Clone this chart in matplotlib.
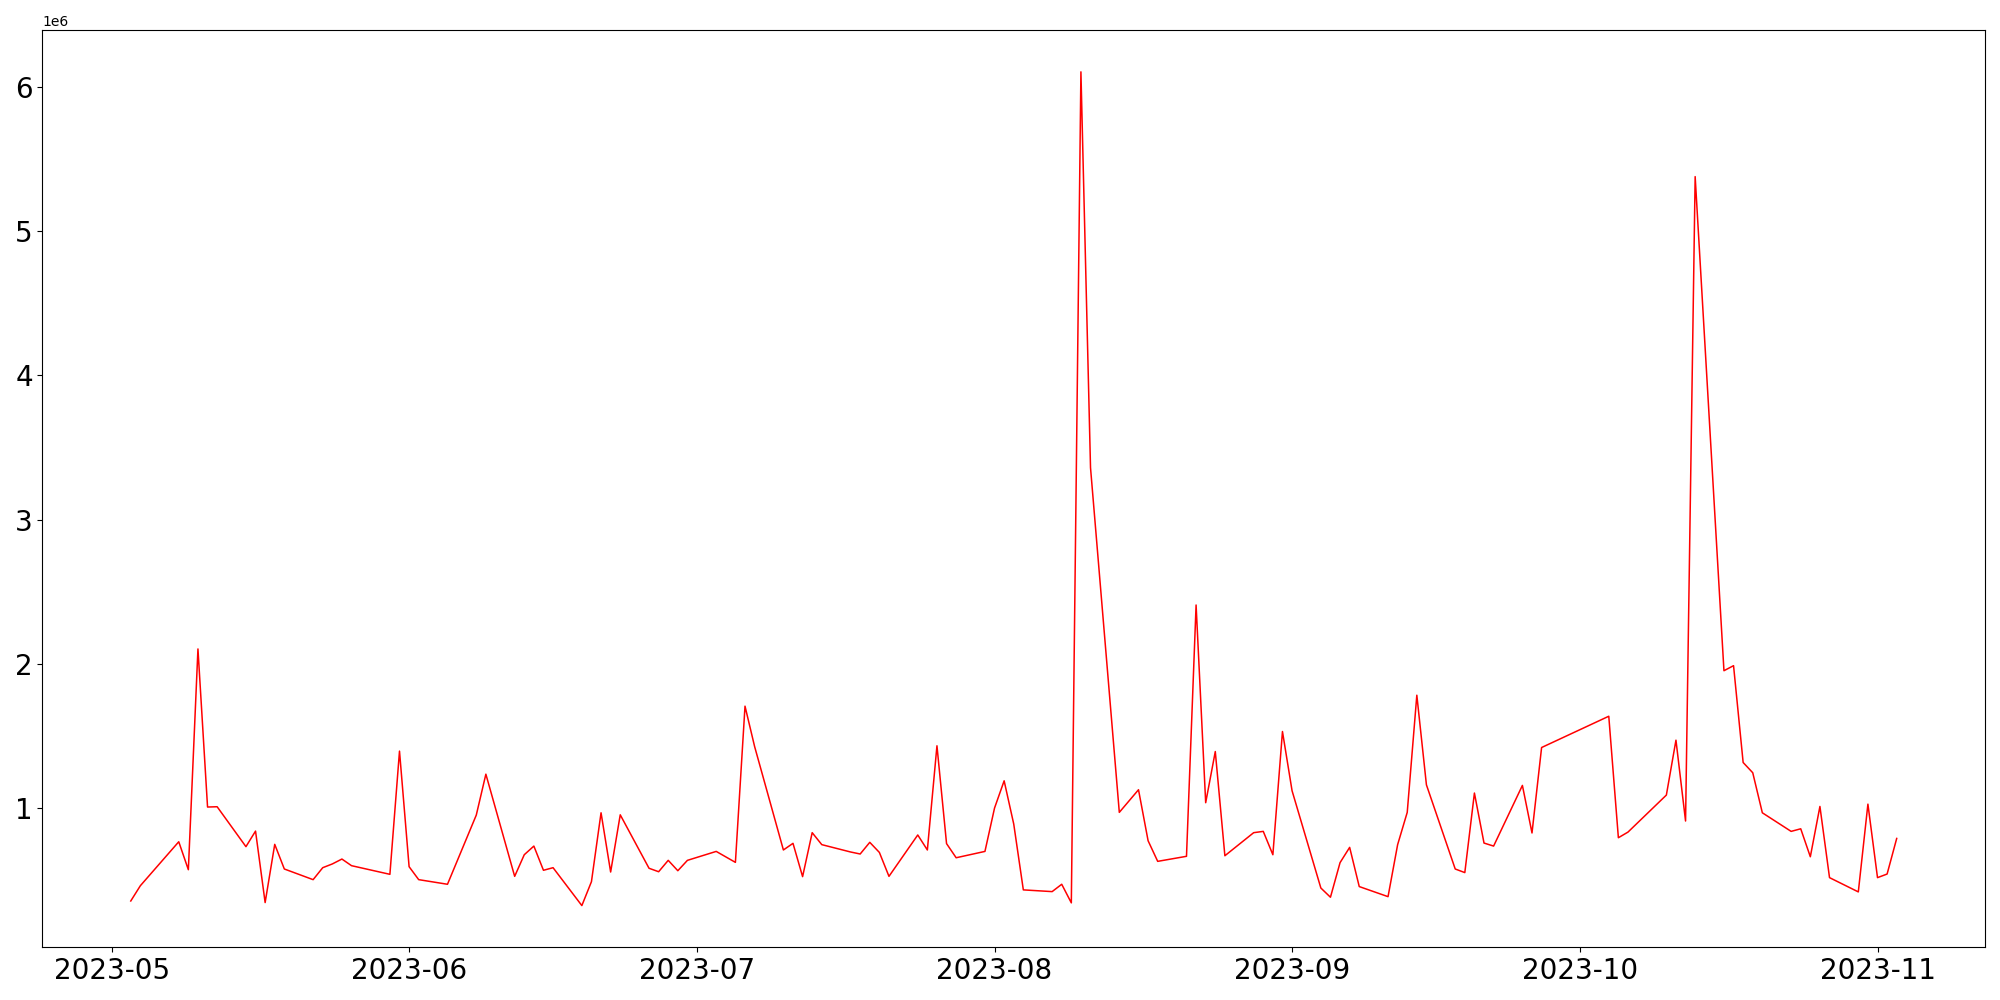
import numpy as np
import matplotlib
matplotlib.use('Agg')
import matplotlib.pyplot as plt

dates = ['2023-05-03', '2023-05-04', '2023-05-08', '2023-05-09', '2023-05-10',
         '2023-05-11', '2023-05-12', '2023-05-15', '2023-05-16', '2023-05-17',
         '2023-05-18', '2023-05-19', '2023-05-22', '2023-05-23', '2023-05-24',
         '2023-05-25', '2023-05-26', '2023-05-30', '2023-05-31', '2023-06-01',
         '2023-06-02', '2023-06-05', '2023-06-08', '2023-06-09', '2023-06-12',
         '2023-06-13', '2023-06-14', '2023-06-15', '2023-06-16', '2023-06-19',
         '2023-06-20', '2023-06-21', '2023-06-22', '2023-06-23', '2023-06-26',
         '2023-06-27', '2023-06-28', '2023-06-29', '2023-06-30', '2023-07-03',
         '2023-07-05', '2023-07-06', '2023-07-07', '2023-07-10', '2023-07-11',
         '2023-07-12', '2023-07-13', '2023-07-14', '2023-07-17', '2023-07-18',
         '2023-07-19', '2023-07-20', '2023-07-21', '2023-07-24', '2023-07-25',
         '2023-07-26', '2023-07-27', '2023-07-28', '2023-07-31', '2023-08-01',
         '2023-08-02', '2023-08-03', '2023-08-04', '2023-08-07', '2023-08-08',
         '2023-08-09', '2023-08-10', '2023-08-11', '2023-08-14', '2023-08-16',
         '2023-08-17', '2023-08-18', '2023-08-21', '2023-08-22', '2023-08-23',
         '2023-08-24', '2023-08-25', '2023-08-28', '2023-08-29', '2023-08-30',
         '2023-08-31', '2023-09-01', '2023-09-04', '2023-09-05', '2023-09-06',
         '2023-09-07', '2023-09-08', '2023-09-11', '2023-09-12', '2023-09-13',
         '2023-09-14', '2023-09-15', '2023-09-18', '2023-09-19', '2023-09-20',
         '2023-09-21', '2023-09-22', '2023-09-25', '2023-09-26', '2023-09-27',
         '2023-10-04', '2023-10-05', '2023-10-06', '2023-10-10', '2023-10-11',
         '2023-10-12', '2023-10-13', '2023-10-16', '2023-10-17', '2023-10-18',
         '2023-10-19', '2023-10-20', '2023-10-23', '2023-10-24', '2023-10-25',
         '2023-10-26', '2023-10-27', '2023-10-30', '2023-10-31', '2023-11-01',
         '2023-11-02', '2023-11-03']

# values in millions
volume = [0.353, 0.459, 0.764, 0.570, 2.102,
          1.005, 1.007, 0.730, 0.838, 0.342,
          0.746, 0.575, 0.501, 0.584, 0.610,
          0.644, 0.598, 0.538, 1.393, 0.591,
          0.501, 0.469, 0.949, 1.233, 0.524,
          0.674, 0.734, 0.566, 0.584, 0.321,
          0.487, 0.965, 0.554, 0.951, 0.580,
          0.556, 0.635, 0.563, 0.635, 0.697,
          0.621, 1.705, 1.425, 0.707, 0.753,
          0.522, 0.827, 0.744, 0.693, 0.679,
          0.760, 0.690, 0.524, 0.811, 0.707,
          1.430, 0.751, 0.653, 0.697, 0.998,
          1.187, 0.887, 0.430, 0.418, 0.469,
          0.340, 6.107, 3.360, 0.968, 1.125,
          0.771, 0.628, 0.663, 2.407, 1.035,
          1.390, 0.667, 0.827, 0.836, 0.674,
          1.529, 1.118, 0.443, 0.379, 0.619,
          0.725, 0.453, 0.383, 0.744, 0.968,
          1.781, 1.159, 0.575, 0.550, 1.102,
          0.755, 0.734, 1.155, 0.825, 1.418,
          1.635, 0.792, 0.831, 1.088, 1.469,
          0.908, 5.380, 1.951, 1.986, 1.314,
          1.243, 0.965, 0.836, 0.854, 0.660,
          1.009, 0.515, 0.416, 1.025, 0.515,
          0.540, 0.787]

x = np.array(dates, dtype='datetime64[D]')
y = np.array(volume) * 1e6

fig, ax = plt.subplots(figsize=(20, 10), dpi=100)
ax.plot(x, y, color='red', linewidth=1.1)
plt.xticks(fontsize=20)
plt.yticks(fontsize=20)
fig.tight_layout()
fig.savefig('out.png')
